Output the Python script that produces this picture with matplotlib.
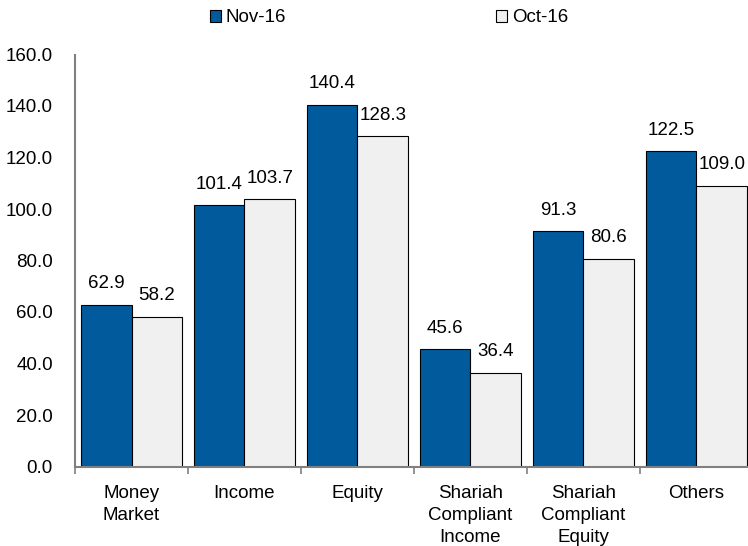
import matplotlib
matplotlib.use("Agg")
import matplotlib.pyplot as plt
import numpy as np

categories = ["Money\nMarket", "Income", "Equity", "Shariah\nCompliant\nIncome",
              "Shariah\nCompliant\nEquity", "Others"]
nov16 = [62.9, 101.4, 140.4, 45.6, 91.3, 122.5]
oct16 = [58.2, 103.7, 128.3, 36.4, 80.6, 109.0]
yticks = [0, 20, 40, 60, 80, 100, 120, 140, 160]

plt.rcParams['font.family'] = ['Liberation Sans', 'DejaVu Sans']
fs = 13.5

fig = plt.figure(figsize=(7.48, 5.46), dpi=100)
ax = fig.add_axes([75 / 748, 1 - 466.5 / 546, 678 / 748, 412 / 546])

x = np.arange(len(categories))
w = 0.447
b1 = ax.bar(x - w / 2, nov16, w, color="#005A9C", edgecolor="black", linewidth=0.8, label="Nov-16")
b2 = ax.bar(x + w / 2, oct16, w, color="#F0F0F0", edgecolor="black", linewidth=0.8, label="Oct-16")

# value labels above bars
for bars in (b1, b2):
    for r in bars:
        ax.annotate(f"{r.get_height():.1f}", (r.get_x() + r.get_width() / 2, r.get_height()),
                    xytext=(0, 9), textcoords="offset points", ha="center", va="bottom", fontsize=fs)

ax.set_xlim(-0.5, len(categories) - 0.5)
ax.set_ylim(0, 160)
ax.set_yticks(yticks)
ax.set_yticklabels([f"{v:.1f}" for v in yticks])
ax.tick_params(axis="y", length=0, pad=16, labelsize=fs)

# tick marks between categories, labels at category centres
ax.set_xticks(np.arange(len(categories) + 1) - 0.5)
ax.set_xticklabels([])
ax.tick_params(axis="x", which="major", length=5, color="#808080", width=1.2)
ax.set_xticks(x, minor=True)
ax.set_xticklabels(categories, minor=True, fontsize=fs, linespacing=1.4)
ax.tick_params(axis="x", which="minor", length=0, pad=13)

for s in ["top", "right"]:
    ax.spines[s].set_visible(False)
for s in ["left", "bottom"]:
    ax.spines[s].set_color("#808080")
    ax.spines[s].set_linewidth(1.5)

fig.legend(handles=[b1, b2], loc="center", bbox_to_anchor=(389 / 748, 1 - 18 / 546), ncol=2,
           frameon=False, fontsize=fs, handlelength=0.6, handleheight=0.6,
           handletextpad=0.25, columnspacing=11.2)

fig.savefig("out.png", dpi=100)
